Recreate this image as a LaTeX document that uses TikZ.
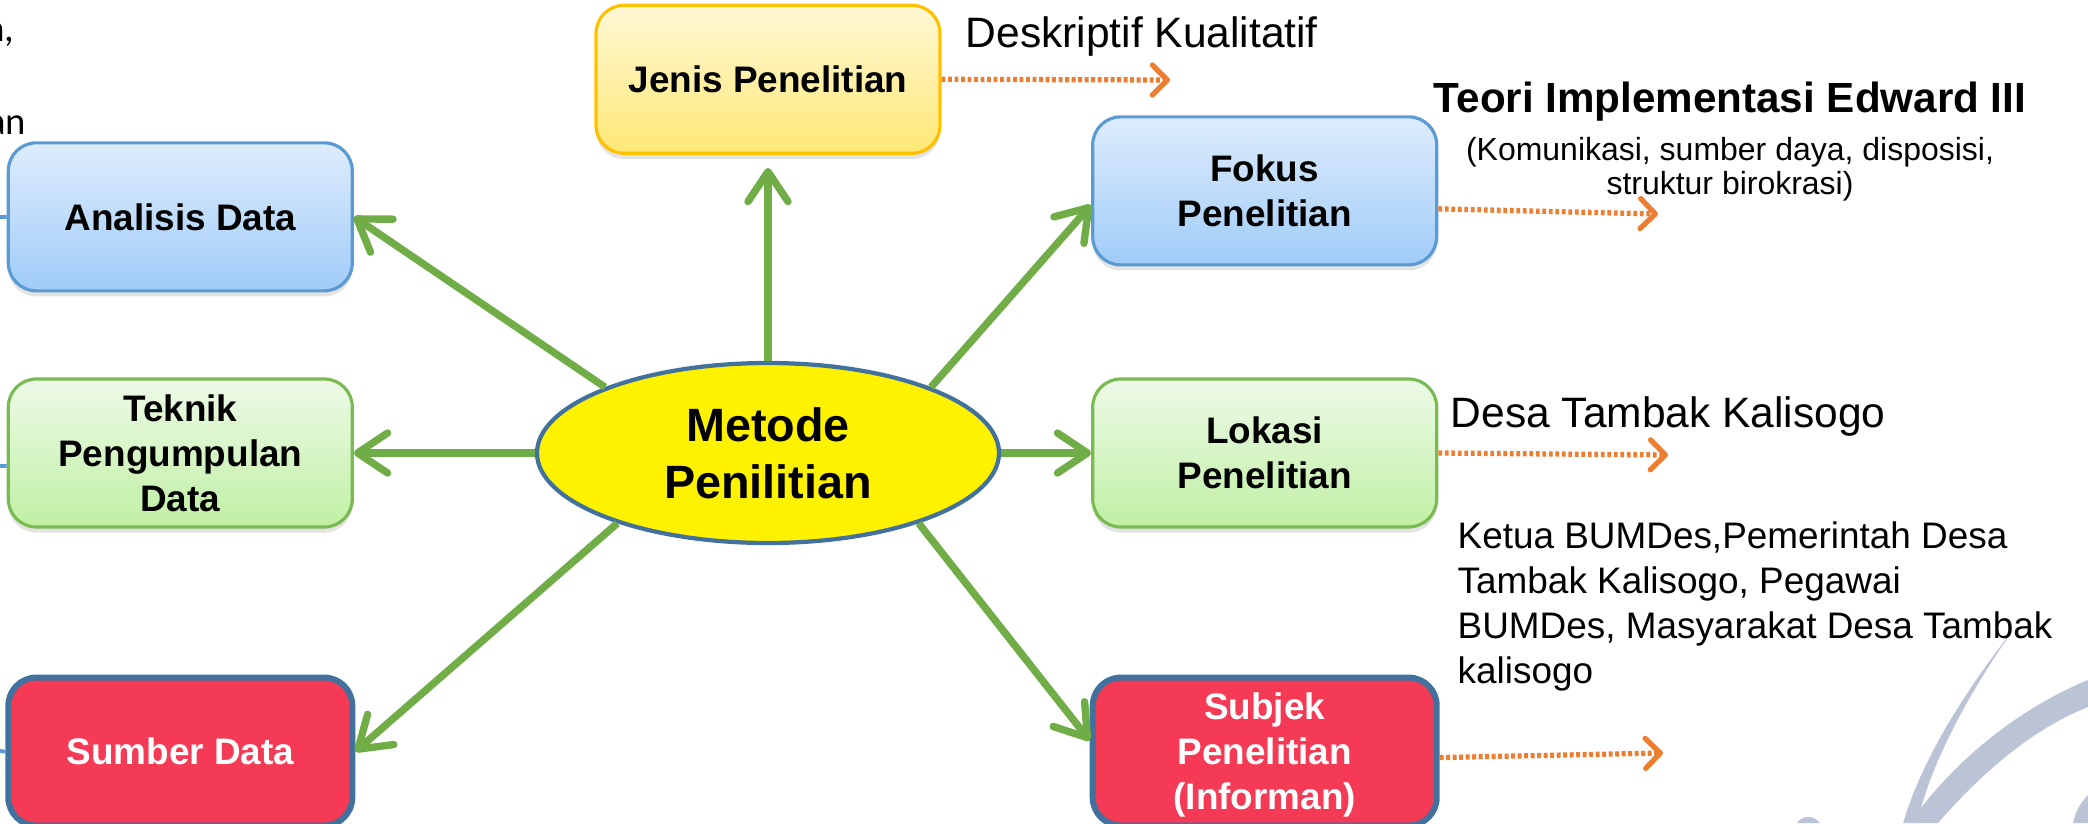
\documentclass[tikz,border=0pt]{standalone}
\usepackage{fontspec}
\setmainfont{Liberation Sans}
\newfontfamily\fragfont{Carlito}
\usepackage{tikz}
\usetikzlibrary{positioning, shapes.geometric, arrows.meta, shadows}
\usepackage{xcolor}
\definecolor{lineblue}{RGB}{91,155,213}
\definecolor{darkedge}{RGB}{65,113,156}
\definecolor{arrowgreen}{RGB}{112,173,71}
\definecolor{dotorange}{RGB}{237,125,49}
\definecolor{subjred}{RGB}{244,58,85}
\definecolor{swoosh}{RGB}{186,196,214}

\begin{document}
\begin{tikzpicture}[
        node distance=0.85cm,
        box/.style={rectangle, draw, rounded corners=0.28cm, minimum width=3.44cm, minimum height=1.48cm, align=center, line width=0.9pt, font=\fontsize{10.5}{12.8}\selectfont\bfseries},
        shadebox/.style={box, drop shadow={opacity=0.22, shadow xshift=0pt, shadow yshift=-1.6pt}},
        bluebox/.style={shadebox, draw=lineblue, top color={rgb,255:red,222;green,236;blue,252}, bottom color={rgb,255:red,160;green,204;blue,248}},
        greenbox/.style={shadebox, draw={rgb,255:red,122;green,186;blue,82}, top color={rgb,255:red,237;green,250;blue,231}, bottom color={rgb,255:red,192;green,240;blue,164}},
        yellowbox/.style={shadebox, draw={rgb,255:red,255;green,192;blue,0}, top color={rgb,255:red,255;green,248;blue,214}, bottom color={rgb,255:red,255;green,232;blue,118}},
        redbox/.style={box, draw=darkedge, line width=1.7pt, fill=subjred, text=white},
        arrow/.style={-{Straight Barb[length=0.3cm, width=0.4cm, round]}, line width=2.1pt, draw=arrowgreen},
        dotarrow/.style={-{Straight Barb[length=0.15cm, width=0.3cm, round]}, line width=1.5pt, draw=dotorange, dash pattern=on 1.1pt off 0.75pt},
        stub/.style={line width=1.1pt, draw=lineblue},
        note/.style={inner sep=0pt, font=\fontsize{12.1}{14.5}\selectfont}
    ]
        \clip (0,0) rectangle (20.88,-8.23);

        % Background swoosh
        \fill[swoosh] (20.13,-6.30) .. controls (19.62,-6.95) and (19.22,-7.60) .. (19.03,-8.23)
            -- (19.17,-8.23) .. controls (19.32,-7.60) and (19.68,-6.95) .. (20.13,-6.30) -- cycle;
        \fill[swoosh] (20.88,-6.80) .. controls (20.15,-7.10) and (19.50,-7.65) .. (19.10,-8.23)
            -- (19.38,-8.23) .. controls (19.80,-7.75) and (20.30,-7.30) .. (20.88,-7.07) -- cycle;
        \fill[swoosh] (17.97,-8.23) .. controls (18.02,-8.15) and (18.14,-8.15) .. (18.20,-8.23) -- cycle;
        \fill[swoosh] (20.88,-7.95) .. controls (20.80,-8.03) and (20.75,-8.13) .. (20.73,-8.23) -- (20.88,-8.23) -- cycle;

        % Centre
        \node[ellipse, draw=darkedge, line width=1.2pt, fill=yellow, minimum width=4.62cm, minimum height=1.80cm, inner sep=0pt, align=center, font=\fontsize{13.3}{16.2}\selectfont\bfseries] (metode) at (7.68,-4.53) {Metode\\Penilitian};

        % Left column
        \node[greenbox, left=1.81cm of metode] (teknik) {Teknik\\Pengumpulan\\Data};
        \node[bluebox, above=of teknik] (analisis) {Analisis Data};
        \node[redbox, below=1.46cm of teknik] (sumber) {Sumber Data};

        % Top
        \node[yellowbox, above=2.06cm of metode] (jenis) {Jenis Penelitian};

        % Right column
        \node[greenbox, right=0.90cm of metode] (lokasi) {Lokasi\\Penelitian};
        \node[bluebox, above=1.11cm of lokasi] (fokus) {Fokus\\Penelitian};
        \node[redbox, below=1.46cm of lokasi, text depth=0pt] (subjek) {Subjek\\Penelitian\\(Informan)};

        % Texts on the right
        \node[note, anchor=base west] (deskriptif) at (9.65,-0.48) {Deskriptif Kualitatif};
        \node[note, anchor=base, font=\fontsize{12}{14.4}\selectfont\bfseries] (teori) at (17.30,-1.13) {Teori Implementasi Edward III};
        \node[inner sep=0pt, anchor=north, align=center, font=\fontsize{9.1}{9.5}\selectfont] (komunikasi) at (17.30,-1.37) {(Komunikasi, sumber daya, disposisi,\\struktur birokrasi)};
        \node[note, anchor=base west] (desa) at (14.50,-4.27) {Desa Tambak Kalisogo};
        \node[inner sep=0pt, anchor=north west, align=left, font=\fontsize{10.5}{12.8}\selectfont] (informan) at (14.57,-5.21) {Ketua BUMDes,Pemerintah Desa\\Tambak Kalisogo, Pegawai\\BUMDes, Masyarakat Desa Tambak\\kalisogo};

        % Cut text on the left
        \node[inner sep=0pt, anchor=base east, font=\fragfont\fontsize{11}{13}\selectfont] (fraga) at (0.15,-0.42) {a,};
        \node[inner sep=0pt, anchor=base east, font=\fragfont\fontsize{11}{13}\selectfont] (fragb) at (0.27,-1.35) {an};

        % Free ends
        \coordinate (jenisend) at (11.70,-0.80);
        \coordinate (fokusend) at (16.58,-2.14);
        \coordinate (lokasiend) at (16.68,-4.55);
        \coordinate (subjekend) at (16.63,-7.53);
        \coordinate (analisisend) at (-0.50,-2.18);
        \coordinate (teknikend) at (-0.50,-4.65);
        \coordinate (sumberend) at (-0.50,-7.46);

        % Arrows
        \draw[arrow, shorten >=0.13cm] (metode.north) -- (jenis.south);
        \draw[arrow] (metode.158) -- (analisis.east);
        \draw[arrow] (metode.west) -- (teknik.east);
        \draw[arrow] (metode.205) -- (sumber.east);
        \draw[arrow] (metode.22) -- ([yshift=-0.14cm]fokus.west);
        \draw[arrow] (metode.east) -- (lokasi.west);
        \draw[arrow] (metode.-25) -- ([yshift=0.11cm]subjek.west);

        \draw[dotarrow] (jenis.east) -- (jenisend);
        \draw[dotarrow] ([yshift=-0.18cm]fokus.east) -- (fokusend);
        \draw[dotarrow] (lokasi.east) -- (lokasiend);
        \draw[dotarrow] ([yshift=-0.06cm]subjek.east) -- (subjekend);

        \draw[stub] (analisis.west) -- (analisisend);
        \draw[stub] ([yshift=-0.13cm]teknik.west) -- (teknikend);
        \draw[stub, dash pattern=on 2.5pt off 1.2pt] (sumber.west) -- (sumberend);
    \end{tikzpicture}
\end{document}
